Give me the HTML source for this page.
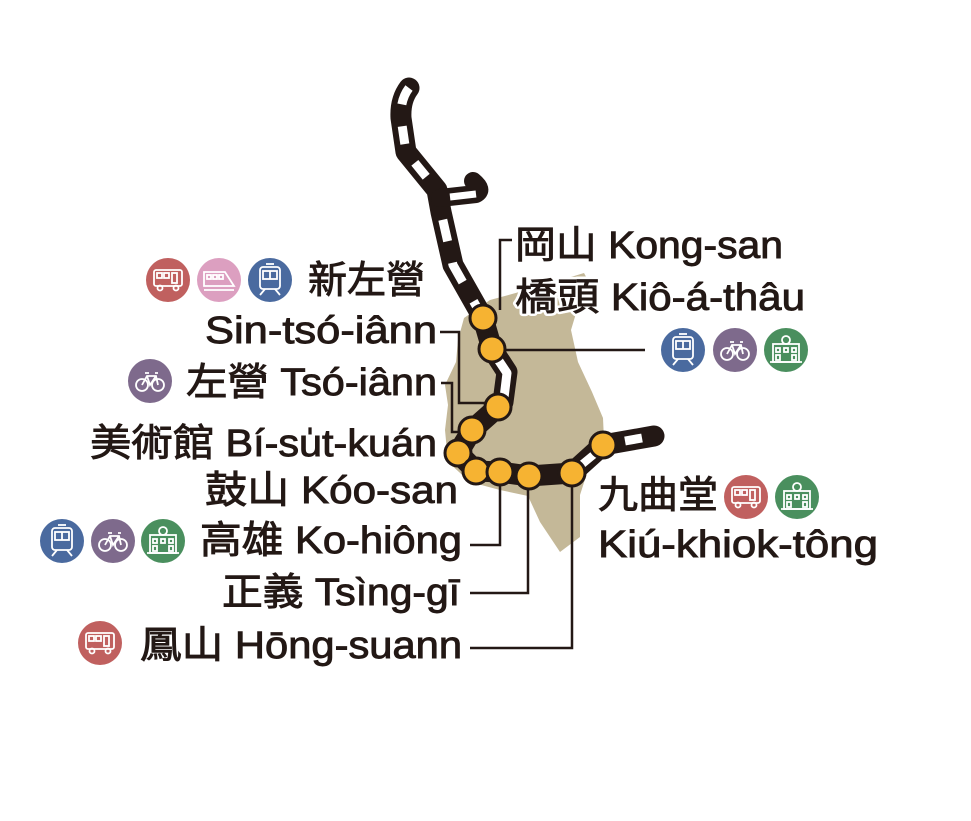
<!DOCTYPE html>
<html><head><meta charset="utf-8">
<style>
html,body{margin:0;padding:0;background:#fff;}
svg{display:block;}
text{font-family:"Liberation Sans","Noto Sans CJK TC",sans-serif;font-size:38px;fill:#231815;stroke:#231815;stroke-width:0.9;}
</style></head><body>
<svg width="971" height="821" viewBox="0 0 971 821" xmlns="http://www.w3.org/2000/svg">
<defs>
<g id="bus"><circle r="22" fill="#c0605f"/><g fill="none" stroke="#fff" stroke-width="1.8"><rect x="-14" y="-10" width="28" height="16" rx="2"/><rect x="-11" y="-7" width="5" height="5"/><rect x="-4" y="-7" width="5" height="5"/><rect x="4" y="-7" width="5" height="10"/><circle cx="-8" cy="8" r="2.5"/><circle cx="8" cy="8" r="2.5"/></g></g>
<g id="hsr"><circle r="22" fill="#dc9fc0"/><g fill="none" stroke="#fff" stroke-width="1.8"><path d="M-15,-8 H6 L15,6 H-15 Z"/><rect x="-12" y="-5" width="4" height="4"/><rect x="-6" y="-5" width="4" height="4"/><rect x="0" y="-5" width="4" height="4"/><line x1="-15" y1="10" x2="15" y2="10"/></g></g>
<g id="mrt"><circle r="22" fill="#4a6a9f"/><g fill="none" stroke="#fff" stroke-width="1.8"><rect x="-10" y="-13" width="20" height="22" rx="3"/><rect x="-7" y="-9" width="14" height="8"/><line x1="0" y1="-9" x2="0" y2="-1"/><line x1="-5" y1="9" x2="-10" y2="15"/><line x1="5" y1="9" x2="10" y2="15"/><line x1="-4" y1="-16" x2="4" y2="-16"/></g></g>
<g id="bike"><circle r="22" fill="#7e6a8c"/><g fill="none" stroke="#fff" stroke-width="1.8"><circle cx="-8" cy="4" r="6"/><circle cx="8" cy="4" r="6"/><path d="M-8,4 L-3,-5 H6 L8,4 M-3,-5 L0,4 L6,-5 M-5,-8 H-1 M5,-8 H8"/></g></g>
<g id="bld"><circle r="22" fill="#4a8f5e"/><g fill="none" stroke="#fff" stroke-width="1.8"><rect x="-13" y="-6" width="26" height="18"/><circle cx="0" cy="-10" r="4"/><line x1="-16" y1="12" x2="16" y2="12"/><rect x="-10" y="-2" width="4" height="4"/><rect x="-2" y="-2" width="4" height="4"/><rect x="6" y="-2" width="4" height="4"/><rect x="-10" y="5" width="4" height="5"/><rect x="6" y="5" width="4" height="5"/></g></g>
</defs>

<!-- land -->
<path fill="#c4b898" d="M464,318 L490,300 L512,294 L548,284 L584,273 L590,284 L580,300 L571,330 L578,362 L592,392 L603,418 L604,440 L588,470 L580,495 L580,537 L560,552 L540,522 L528,496 L500,490 L470,482 L448,462 L445,430 L448,405 L445,385 L456,362 L458,340 Z"/>

<!-- leader lines -->
<g fill="none" stroke="#231815" stroke-width="2.5">
<path d="M500,310 V240 H512"/>
<path d="M492,350 H645"/>
<path d="M440,332 H459 V403 H496"/>
<path d="M441,383 H452 V432 H470"/>
<path d="M470,545 H500 V472"/>
<path d="M470,593 H528 V476"/>
<path d="M470,648 H572 V474"/>
</g>

<!-- track -->
<g fill="none" stroke-linecap="round" stroke-linejoin="round">
<path d="M409,88 Q400,100 401,118 L406,152 L437,190 L441,212 L453,265 L483,318 L492,349 L507,372 L503,402 L498,407 L472,430 L458,453 L476,471 L500,472 L529,476 L572,473 L603,445 L654,436" stroke="#231815" stroke-width="21"/>
<path d="M440,198 L476,194 Q484,190 473,181" stroke="#231815" stroke-width="18"/>
<path d="M409,88 Q400,100 401,118 L406,152 L437,190" stroke="#fff" stroke-width="9" stroke-linecap="butt" stroke-dasharray="18 22"/>
<path d="M441,212 L453,265 L483,318" stroke="#fff" stroke-width="9" stroke-linecap="butt" stroke-dasharray="22 22" stroke-dashoffset="-8"/>
<path d="M450,197 L476,194" stroke="#fff" stroke-width="7" stroke-linecap="butt"/>
<path d="M497,358 L507,373 L504,398" stroke="#fff" stroke-width="9" stroke-linecap="butt"/>
<path d="M580,466 L597,452" stroke="#fff" stroke-width="8" stroke-linecap="butt"/>
<path d="M625,441 L642,438" stroke="#fff" stroke-width="9" stroke-linecap="butt"/>
</g>

<!-- stations -->
<g fill="#f6b332" stroke="#231815" stroke-width="3">
<circle cx="483" cy="318" r="13"/><circle cx="492" cy="349" r="13"/><circle cx="498" cy="407" r="13"/>
<circle cx="472" cy="430" r="13"/><circle cx="458" cy="453" r="13"/><circle cx="476" cy="471" r="13"/>
<circle cx="500" cy="472" r="13"/><circle cx="529" cy="476" r="13"/><circle cx="572" cy="473" r="13"/>
<circle cx="603" cy="445" r="13"/>
</g>

<!-- icons -->
<use href="#bus" x="168" y="280"/><use href="#hsr" x="219" y="280"/><use href="#mrt" x="270" y="280"/>
<use href="#bike" x="150" y="381"/>
<use href="#mrt" x="683" y="350"/><use href="#bike" x="735" y="350"/><use href="#bld" x="786" y="350"/>
<use href="#bus" x="746" y="497"/><use href="#bld" x="797" y="497"/>
<use href="#mrt" x="62" y="541"/><use href="#bike" x="113" y="541"/><use href="#bld" x="163" y="541"/>
<use href="#bus" x="100" y="643"/>

<!-- labels -->
<g text-anchor="end">
<text x="425" y="293" textLength="117" lengthAdjust="spacingAndGlyphs">新左營</text>
<text x="437" y="343" textLength="232" lengthAdjust="spacingAndGlyphs">Sin-tsó-iânn</text>
<text x="437" y="395" textLength="251" lengthAdjust="spacingAndGlyphs">左營 Tsó-iânn</text>
<text x="437" y="456" textLength="347" lengthAdjust="spacingAndGlyphs">美術館 Bí-su̍t-kuán</text>
<text x="458" y="503" textLength="253" lengthAdjust="spacingAndGlyphs">鼓山  Kóo-san</text>
<text x="462" y="553" textLength="262" lengthAdjust="spacingAndGlyphs">高雄 Ko-hiông</text>
<text x="460" y="605" textLength="238" lengthAdjust="spacingAndGlyphs">正義 Tsìng-gī</text>
<text x="462" y="658" textLength="322" lengthAdjust="spacingAndGlyphs">鳳山 Hōng-suann</text>
</g>
<text x="515" y="258" textLength="268" lengthAdjust="spacingAndGlyphs">岡山 Kong-san</text>
<text x="515" y="310" textLength="290" lengthAdjust="spacingAndGlyphs" style="stroke:#fff;stroke-width:6;stroke-linejoin:round;paint-order:stroke">橋頭 Kiô-á-thâu</text>
<text x="515" y="310" textLength="290" lengthAdjust="spacingAndGlyphs">橋頭 Kiô-á-thâu</text>
<text x="598" y="508" textLength="120" lengthAdjust="spacingAndGlyphs">九曲堂</text>
<text x="598" y="557" textLength="280" lengthAdjust="spacingAndGlyphs">Kiú-khiok-tông</text>
</svg>
</body></html>
